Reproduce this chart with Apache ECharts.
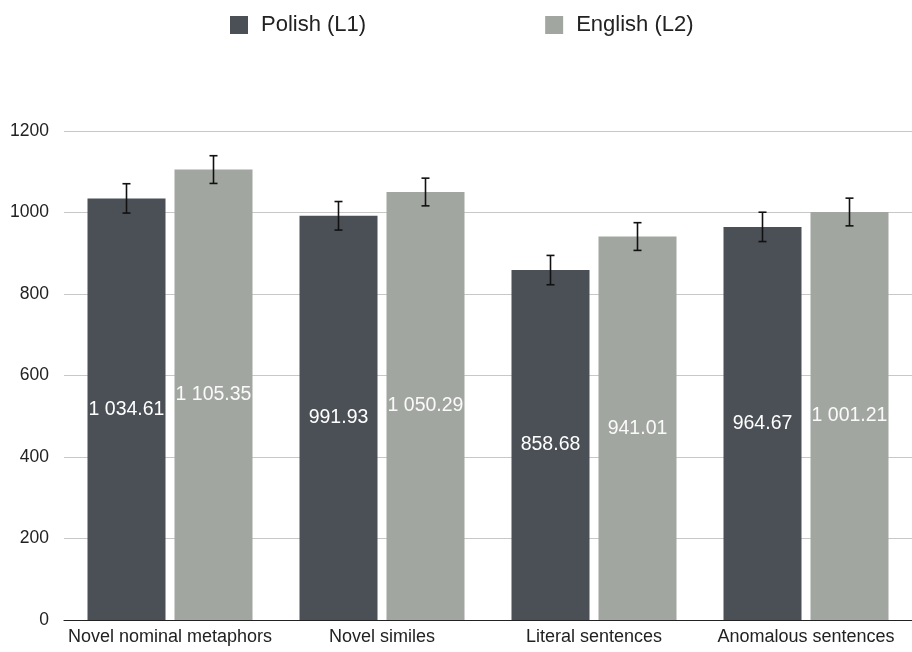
<!DOCTYPE html>
<html>
<head>
<meta charset="utf-8">
<script src="https://cdn.jsdelivr.net/npm/echarts@6/dist/echarts.min.js"></script>
<style>
  html, body { margin: 0; padding: 0; background: #fff; }
  #chart { width: 912px; height: 652px; }
</style>
</head>
<body>
<div id="chart"></div>
<script>
// Mean reaction times (ms) by sentence type and language
const categories = ['Novel nominal metaphors', 'Novel similes', 'Literal sentences', 'Anomalous sentences'];
const polishValues = [1034.61, 991.93, 858.68, 964.67];
const englishValues = [1105.35, 1050.29, 941.01, 1001.21];
const polishErrors = [36, 35, 36, 36];
const englishErrors = [34, 34, 34, 34];
const yTicks = [0, 200, 400, 600, 800, 1000, 1200];

const DARK = '#4b5057';
const LIGHT = '#a2a6a1';
const FONT = 'Helvetica, Arial, "Liberation Sans", sans-serif';
const BAR_W = 78;
const BAR_GAP = 9;

function fmt(v) {
  const parts = v.toFixed(2).split('.');
  parts[0] = parts[0].replace(/\B(?=(\d{3})+(?!\d))/g, ' ');
  return parts.join('.');
}

function errorSeries(values, errors, side) {
  const offset = side * (BAR_W + BAR_GAP) / 2;
  return {
    type: 'custom',
    silent: true,
    z: 10,
    data: values.map((v, i) => [i, v - errors[i], v + errors[i]]),
    renderItem: function (params, api) {
      const lo = api.coord([api.value(0), api.value(1)]);
      const hi = api.coord([api.value(0), api.value(2)]);
      const x = lo[0] + offset;
      const cap = 4;
      const style = { stroke: '#111', lineWidth: 1.6 };
      return {
        type: 'group',
        children: [
          { type: 'line', shape: { x1: x, y1: hi[1], x2: x, y2: lo[1] }, style: style },
          { type: 'line', shape: { x1: x - cap, y1: hi[1], x2: x + cap, y2: hi[1] }, style: style },
          { type: 'line', shape: { x1: x - cap, y1: lo[1], x2: x + cap, y2: lo[1] }, style: style }
        ]
      };
    }
  };
}

const chart = echarts.init(document.getElementById('chart'), null, { renderer: 'canvas' });
chart.setOption({
  animation: false,
  backgroundColor: '#fff',
  textStyle: { fontFamily: FONT },
  legend: {
    top: 9,
    left: 225,
    itemWidth: 18,
    itemHeight: 18,
    itemGap: 179,
    icon: 'rect',
    textStyle: { fontSize: 22, color: '#222', fontFamily: FONT, padding: [0, 0, 0, 8] },
    data: ['Polish (L1)', 'English (L2)']
  },
  grid: { left: 64, right: 0, top: 131, bottom: 32, containLabel: false },
  xAxis: {
    type: 'category',
    data: categories,
    axisTick: { show: false },
    axisLine: { lineStyle: { color: '#222', width: 1.2 } },
    axisLabel: { interval: 0, fontSize: 18, color: '#222', margin: 8, fontFamily: FONT }
  },
  yAxis: {
    type: 'value',
    min: yTicks[0],
    max: yTicks[yTicks.length - 1],
    interval: yTicks[1] - yTicks[0],
    axisLine: { show: false },
    axisTick: { show: false },
    axisLabel: {
      fontSize: 17.5, color: '#222', margin: 15, fontFamily: FONT,
      formatter: v => String(v)
    },
    splitLine: { lineStyle: { color: '#c8c8c8', width: 1 } }
  },
  series: [
    {
      name: 'Polish (L1)',
      type: 'bar',
      data: polishValues,
      barWidth: BAR_W,
      barGap: (BAR_GAP / BAR_W * 100) + '%',
      itemStyle: { color: DARK },
      label: {
        show: true, position: 'inside', color: '#fff', fontSize: 19.5, fontFamily: FONT,
        formatter: p => fmt(p.value)
      }
    },
    {
      name: 'English (L2)',
      type: 'bar',
      data: englishValues,
      barWidth: BAR_W,
      itemStyle: { color: LIGHT },
      label: {
        show: true, position: 'inside', color: '#fafafa', fontSize: 19.5, fontFamily: FONT,
        formatter: p => fmt(p.value)
      }
    },
    errorSeries(polishValues, polishErrors, -1),
    errorSeries(englishValues, englishErrors, 1)
  ]
});
</script>
</body>
</html>
